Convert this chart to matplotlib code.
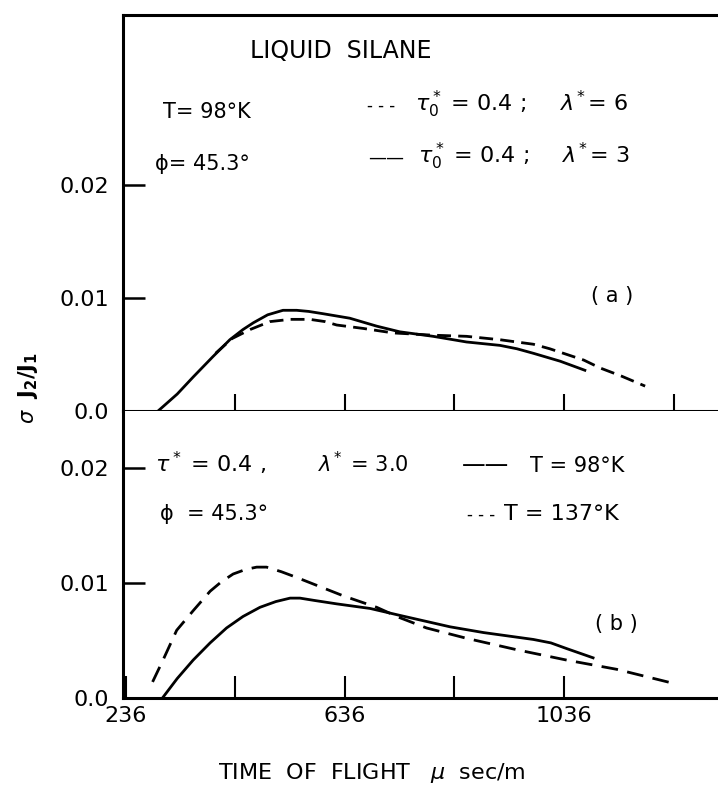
import matplotlib
matplotlib.use("Agg")
import matplotlib.pyplot as plt

# values (x: time of flight, y: sigma J2/J1)
# panel (a): tau0* = 0.4, lambda* = 3 (solid) and lambda* = 6 (dashed)
a_solid_x = [295, 330, 359, 395, 426, 450, 469, 495, 523, 548, 570, 596, 645, 694,
             736, 797, 858, 919, 950, 980, 1029, 1074]
a_solid_y = [0.0, 0.0015, 0.0030, 0.0048, 0.0063, 0.0072, 0.0078, 0.0085, 0.0089, 0.0089,
             0.0088, 0.0086, 0.0082, 0.0075, 0.0070, 0.0066, 0.0061, 0.0058, 0.0055,
             0.0051, 0.0044, 0.0036]
a_dash_x = [400, 430, 463, 499, 536, 572, 600, 621, 669, 724, 797, 858, 919, 980, 1010,
            1041, 1072, 1102, 1140, 1184]
a_dash_y = [0.0051, 0.0064, 0.0072, 0.0079, 0.0081, 0.0081, 0.0079, 0.0076, 0.0073, 0.0069,
            0.0067, 0.0066, 0.0063, 0.0059, 0.0055, 0.0050, 0.0045, 0.0038, 0.0031, 0.0022]

# panel (b): T = 98 K (solid) and T = 137 K (dashed)
b_solid_x = [303, 330, 359, 390, 420, 450, 481, 510, 536, 554, 580, 621, 682, 736, 828,
             889, 980, 1012, 1041, 1089]
b_solid_y = [0.0, 0.0017, 0.0033, 0.0048, 0.0061, 0.0071, 0.0079, 0.0084, 0.0087, 0.0087,
             0.0085, 0.0082, 0.0078, 0.0072, 0.0062, 0.0057, 0.0051, 0.0048, 0.0043, 0.0035]
b_dash_x = [285, 304, 329, 359, 390, 410, 432, 455, 475, 493, 520, 548, 633, 694, 736,
            785, 858, 950, 1041, 1132, 1242]
b_dash_y = [0.0014, 0.0033, 0.0059, 0.0076, 0.0093, 0.0101, 0.0108, 0.0112, 0.0114, 0.0114,
            0.0110, 0.0105, 0.0089, 0.0079, 0.0070, 0.0061, 0.0052, 0.0042, 0.0033, 0.0025,
            0.0012]

a_xticks = [436, 636, 836, 1036, 1236]
b_xticks = [236, 436, 636, 836, 1036]
b_xticklabels = ["236", "", "636", "", "1036"]
yticks = [0.0, 0.01, 0.02]
yticklabels = ["0.0", "0.01", "0.02"]

W, H = 718, 789
fig = plt.figure(figsize=(W / 100, H / 100), dpi=100)


def box(left, top, right, bottom):
    return [left / W, 1 - bottom / H, (right - left) / W, (bottom - top) / H]


def put(x, y, s, size=15, **kw):
    # place text by pixel position of the reference (y = baseline)
    fig.text(x / W, 1 - y / H, s, fontsize=size, va="baseline", **kw)


ax_a = fig.add_axes(box(123, 15, 718, 411))
ax_b = fig.add_axes(box(123, 411, 718, 698))

for ax in (ax_a, ax_b):
    ax.set_xlim(231, 1317)
    ax.spines["right"].set_visible(False)
    for s in ("left", "bottom", "top"):
        ax.spines[s].set_linewidth(2.2)
    ax.set_yticks(yticks)
    ax.set_yticklabels(yticklabels)
    ax.tick_params(axis="y", direction="in", length=16, width=1.8, pad=10, labelsize=16)
ax_b.spines["top"].set_visible(False)

ax_a.set_ylim(0, 0.035)
ax_b.set_ylim(0, 0.025)

ax_a.set_xticks(a_xticks)
ax_a.tick_params(axis="x", direction="in", length=12, width=1.5, labelbottom=False)
ax_b.set_xticks(b_xticks)
ax_b.set_xticklabels(b_xticklabels)
ax_b.tick_params(axis="x", direction="in", length=16, width=1.5, pad=6, labelsize=16)

ax_a.plot(a_solid_x, a_solid_y, color="black", lw=2)
ax_a.plot(a_dash_x, a_dash_y, color="black", lw=2, dashes=(5, 2.6))
ax_b.plot(b_solid_x, b_solid_y, color="black", lw=2)
ax_b.plot(b_dash_x, b_dash_y, color="black", lw=2, dashes=(6, 3.4))

# panel (a) annotations
put(250, 58, "LIQUID  SILANE", size=17)
put(163, 118, "T= 98°K")
put(155, 170, "ϕ= 45.3°")
put(367, 111, "- - -", size=12)
put(415, 111, r"$\tau_0^*$ = 0.4 ;", size=16)
put(560, 111, r"$\lambda^{\!*}$= 6", size=16)
put(368, 163, "——", size=13)
put(418, 163, r"$\tau_0^*$ = 0.4 ;", size=16)
put(562, 163, r"$\lambda^{\!*}$= 3", size=16)
put(612, 302, "( a )", ha="center")

# panel (b) annotations
put(155, 472, r"$\tau^*$ = 0.4 ,", size=16)
put(318, 472, r"$\lambda^{\!*}$ = 3.0")
put(462, 472, "——", size=17)
put(530, 472, "T = 98°K")
put(160, 520, "ϕ  = 45.3°")
put(467, 520, "- - -", size=12)
put(504, 520, "T = 137°K", size=16)
put(616, 630, "( b )", ha="center")

fig.text(372 / W, 1 - 773 / H, r"TIME  OF  FLIGHT   $\mu$  sec/m", fontsize=16, ha="center", va="center")
fig.text(28 / W, 1 - 388 / H, r"$\sigma$  $\mathbf{J_2/J_1}$", fontsize=15, rotation=90,
         ha="center", va="center")

fig.savefig("out.png", dpi=100)
